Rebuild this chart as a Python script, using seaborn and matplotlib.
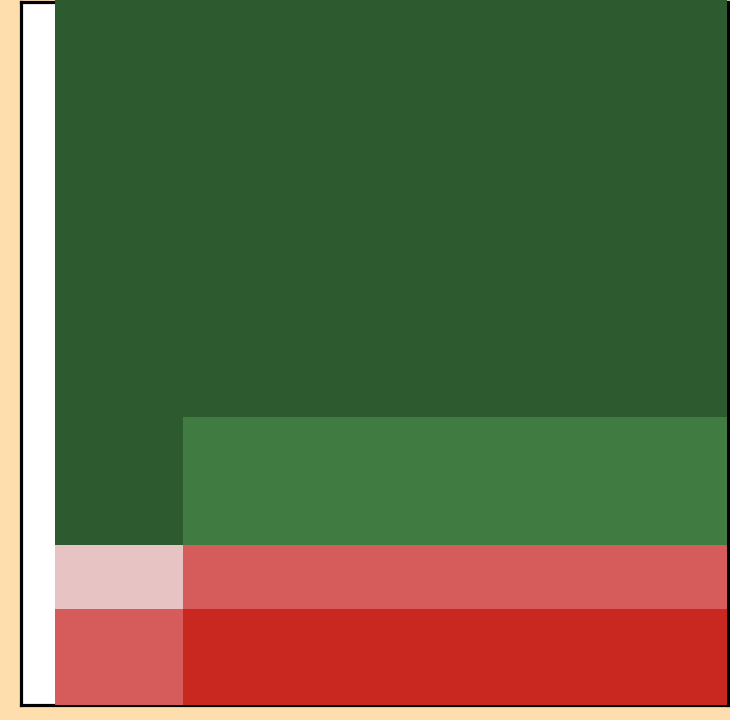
import matplotlib
matplotlib.use("Agg")
import matplotlib.pyplot as plt
import seaborn as sns
import pandas as pd

# ---- data ----
bin_edges = [0, 1, 5.25]
bin_centers = [0.5, 3.125]
groups = ["red", "salmon", "pink", "mid green", "dark green"]
left_values = [0, 3, 2, 0, 17.2]
right_values = [3, 2, 0, 4, 13.2]
colors = ["#c8281f", "#d65b5b", "#e8c3c3", "#407c42", "#2d5a2e"]

rows = []
for g, lv, rv in zip(groups, left_values, right_values):
    rows.append({"x": bin_centers[0], "w": lv, "group": g})
    rows.append({"x": bin_centers[1], "w": rv, "group": g})
df = pd.DataFrame(rows)

sns.set_theme(style="white")
fig = plt.figure(figsize=(7.3, 7.2), dpi=100)
fig.patch.set_facecolor("#FFDEAD")
ax = fig.add_axes([20.5 / 730, 15 / 720, 707.5 / 730, 703 / 720])
ax.set_facecolor("white")

sns.histplot(data=df, x="x", weights="w", hue="group", hue_order=groups[::-1],
             palette=dict(zip(groups, colors)), bins=bin_edges, multiple="stack",
             alpha=1, linewidth=0, legend=False, ax=ax)

for p in ax.patches:
    p.set_zorder(3)
    p.set_clip_on(False)

ax.set_xlim((20.5 - 55) / 128, (728 - 55) / 128)
ax.set_ylim(0, 703 / 32)
ax.set_xticks([])
ax.set_yticks([])
ax.set_xlabel("")
ax.set_ylabel("")
for s in ax.spines.values():
    s.set_visible(True)
    s.set_color("black")
    s.set_linewidth(2.3)

fig.savefig("out.png", dpi=100, facecolor=fig.get_facecolor())
